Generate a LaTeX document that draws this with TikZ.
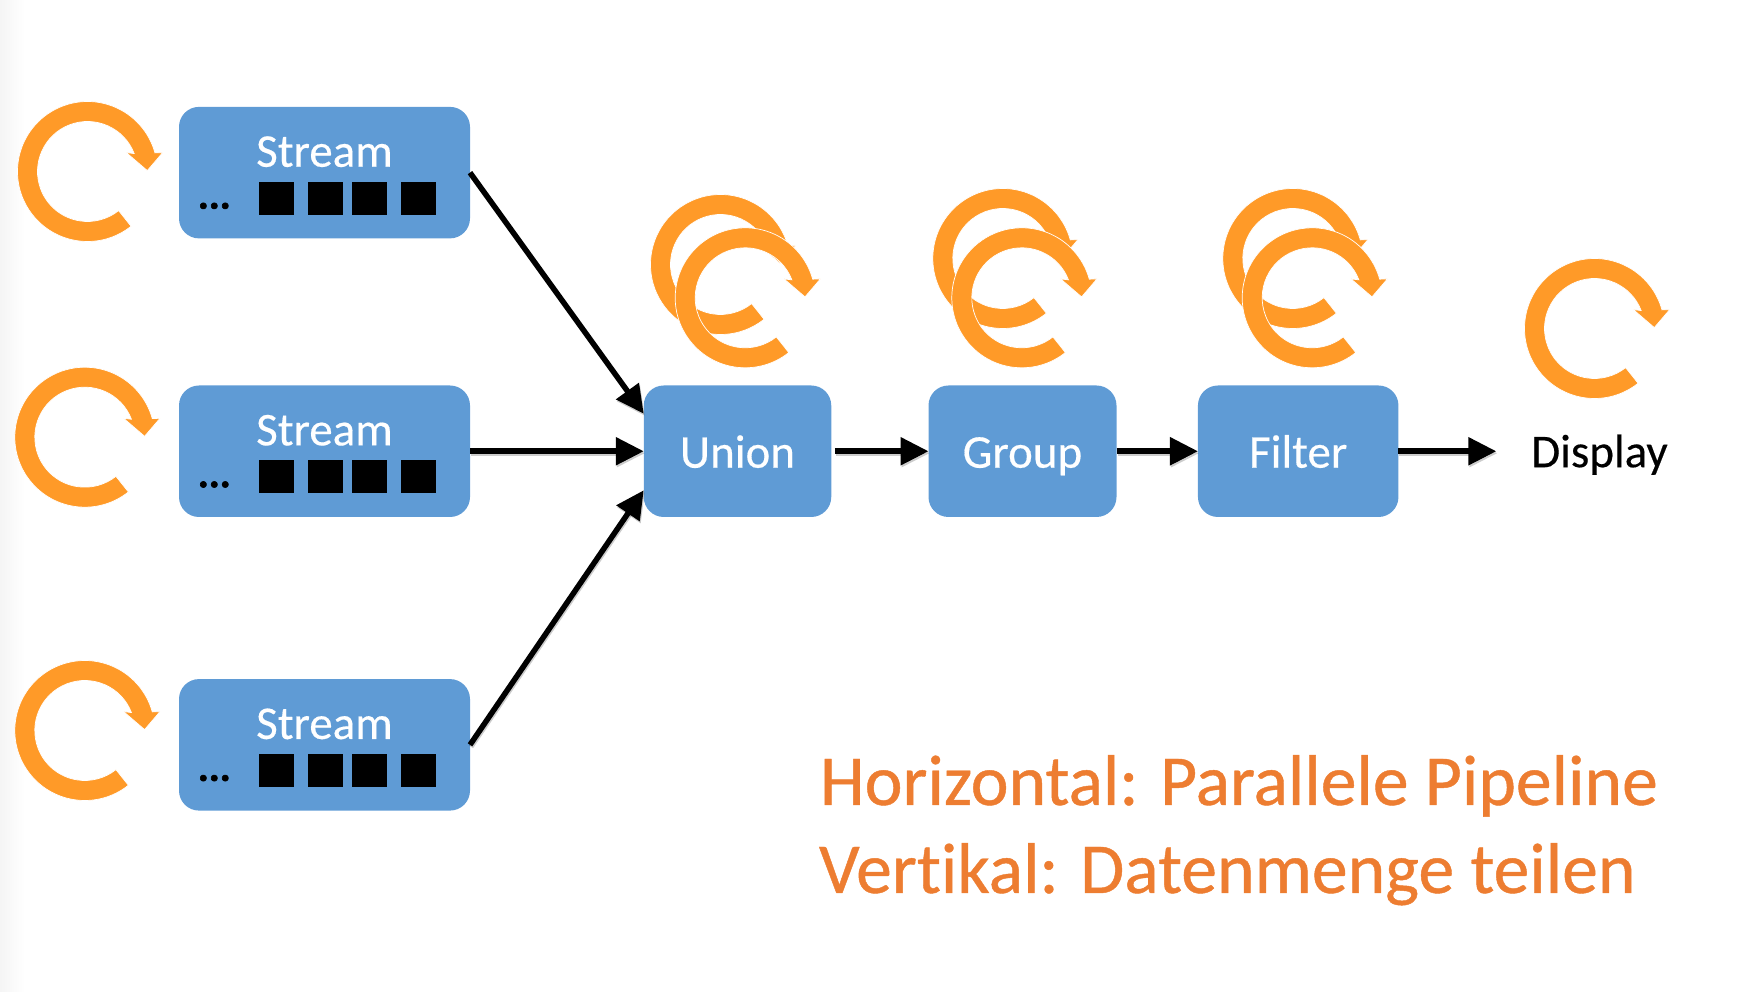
\documentclass[tikz,border=0pt]{standalone}
\usepackage{fontspec}
\setmainfont[Ligatures=CommonOff]{Carlito}
\usetikzlibrary{arrows.meta}
\definecolor{boxblue}{HTML}{5F9BD5}
\definecolor{cycorange}{HTML}{FF9A28}
\definecolor{noteorange}{HTML}{ED7D31}
\tikzset{
  box/.style={fill=boxblue,rounded corners=20pt,inner sep=0pt,outer sep=0pt,minimum height=131.5pt,text height=32.9pt,text depth=0pt,text=white,font=\fontsize{47}{50}\selectfont\addfontfeature{FakeBold=0.35}},
  boxtext/.style={inner sep=0pt,outer sep=0pt,text=white,font=\fontsize{47}{50}\selectfont\addfontfeature{FakeBold=0.35},anchor=base},
  dotstext/.style={inner sep=0pt,outer sep=0pt,text=black,font=\bfseries\fontsize{41}{45}\selectfont\addfontfeature{FakeBold=1.5},anchor=base},
  datasq/.style={fill=black,inner sep=0pt,outer sep=0pt,minimum width=34.5pt,minimum height=33pt},
  flow/.style={draw=black,line width=5.5pt,-{Triangle[length=28pt,width=27pt]},
    preaction={draw=black,draw opacity=.2,line width=5pt,transform canvas={shift={(1pt,-2pt)}}}},
  note/.style={inner sep=0pt,outer sep=0pt,text=noteorange,font=\fontsize{71.7}{75}\selectfont\addfontfeature{FakeBold=0.6},anchor=base west},
  cyc/.pic={
    \fill[cycorange,draw=white,line width=.7pt]
      (-51.5:70) arc[start angle=-51.5,end angle=-344.6,radius=70pt]
      -- (75.2,18.9) -- (59.8,0.9) -- (38.8,18.9) -- (21:50)
      arc[start angle=-339,end angle=-51.5,radius=50pt] -- cycle;
  }
}
\newcommand{\streambox}[2]{%
  \node[box,minimum width=291pt] (#1) at (324.5,#2) {};
  \node[boxtext] (#1t) at ([yshift=5.9pt]#1.center) {Stream};
  \node[dotstext] (#1d) at ([xshift=-110.2pt,yshift=-36pt]#1.center) {...};
  \node[datasq] (#1a) at ([xshift=-48.15pt,yshift=-25.55pt]#1.center) {};
  \node[datasq] (#1b) at ([xshift=1.15pt,yshift=-25.55pt]#1.center) {};
  \node[datasq] (#1c) at ([xshift=45.15pt,yshift=-25.55pt]#1.center) {};
  \node[datasq] (#1e) at ([xshift=94pt,yshift=-25.55pt]#1.center) {};
}
\begin{document}
\begin{tikzpicture}[x=1pt,y=1pt]
\useasboundingbox (0,0) rectangle (1754,992);
\shade[left color=black!4,right color=white] (0,0) rectangle (25,992);
% cycle arrows
\pic at (87.5,820.5) {cyc};
\pic at (84.8,554.8) {cyc};
\pic at (84.8,261.5) {cyc};
\pic at (720.5,727.5) {cyc};
\pic at (745.2,694.2) {cyc};
\pic at (1002.8,733.5) {cyc};
\pic at (1021.8,694.2) {cyc};
\pic at (1292.8,733.5) {cyc};
\pic at (1312.2,694.2) {cyc};
\pic at (1594.5,663.5) {cyc};
% stream boxes
\streambox{sa}{819.35}
\streambox{sb}{540.75}
\streambox{sc}{247.15}
% operators
\node[box,minimum width=187.5pt] (union) at (737.5,540.75) {Union};
\node[box,minimum width=188pt] (group) at (1022.5,540.75) {Group};
\node[box,minimum width=200.5pt] (filter) at (1298.2,540.75) {Filter};
\node[inner sep=0pt,outer sep=0pt,font=\fontsize{47}{50}\selectfont\addfontfeature{FakeBold=0.35},anchor=base] (display) at (1599.5,524.8) {Display};
% connectors
\draw[flow] (sa.east) -- ([yshift=37.5pt]union.west);
\draw[flow] (sb.east) -- (union.west);
\draw[flow] (sc.east) -- ([yshift=-39pt]union.west);
\draw[flow] ([xshift=3.5pt]union.east) -- (group.west);
\draw[flow] (group.east) -- (filter.west);
\draw[flow] (filter.east) -- ([xshift=-35pt]display.west |- filter.east);
% note
\node[note] (line1) at (820,187) {Horizontal: Parallele Pipeline};
\node[note] (line2) at (819,99) {Vertikal: Datenmenge teilen};
\end{tikzpicture}
\end{document}
